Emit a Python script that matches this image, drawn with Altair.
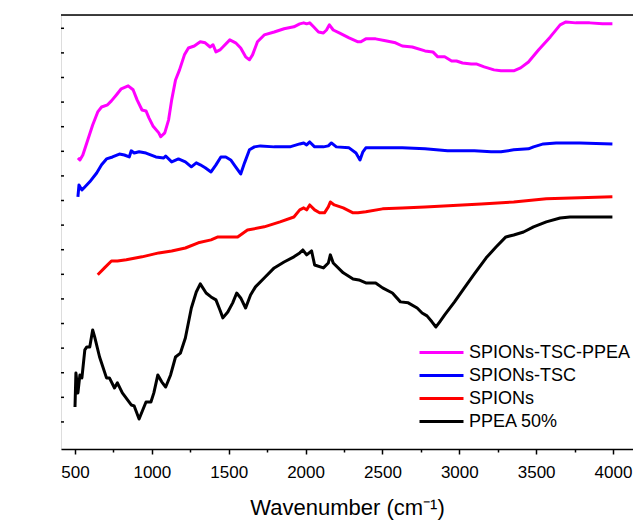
import altair as alt
import pandas as pd

# ---- data (wavenumber cm-1, transmittance in arbitrary offset units) ----
series_names = ["SPIONs-TSC-PPEA", "SPIONs-TSC", "SPIONs", "PPEA 50%"]
series_colors = ["#FF00FF", "#0000FF", "#FF0000", "#000000"]

ppea_tsc_wn = [519, 532, 551, 583, 615, 648, 673, 712, 737, 769, 801, 846, 878, 904, 936, 962, 981,
               1007, 1045, 1058, 1084, 1109, 1129, 1154, 1180, 1212, 1238, 1276, 1315, 1347, 1379,
               1398, 1417, 1443, 1462, 1507, 1545, 1578, 1610, 1635, 1655, 1687, 1731, 1796, 1860,
               1924, 1962, 1988, 2007, 2027, 2052, 2084, 2116, 2136, 2155, 2180, 2219, 2283, 2341,
               2360, 2392, 2456, 2520, 2585, 2629, 2694, 2777, 2828, 2860, 2905, 2950, 2982, 3021,
               3078, 3110, 3162, 3226, 3271, 3354, 3399, 3450, 3515, 3592, 3656, 3694, 3758, 3848,
               3932, 3996]
ppea_tsc_t = [107.3, 106.5, 108.5, 114.6, 120.7, 126.0, 128.0, 128.9, 130.5, 132.9, 135.4, 136.6,
              135.0, 130.9, 126.8, 126.4, 123.6, 120.3, 117.5, 115.9, 117.5, 122.8, 130.9, 139.0,
              143.1, 149.2, 152.0, 152.8, 154.5, 154.1, 152.4, 153.3, 150.4, 151.2, 152.4, 155.3,
              154.1, 152.0, 148.4, 147.2, 149.2, 154.5, 157.3, 158.5, 159.8, 160.6, 161.8, 162.2,
              161.8, 162.2, 160.6, 158.5, 158.1, 159.3, 161.4, 159.3, 158.1, 156.1, 154.5, 154.5,
              155.7, 155.7, 154.9, 154.1, 152.8, 152.4, 150.8, 150.4, 148.4, 148.4, 146.7, 146.7,
              145.9, 145.5, 145.5, 144.3, 143.1, 142.7, 142.7, 143.9, 146.3, 151.2, 156.5, 161.4,
              162.6, 162.2, 162.2, 161.8, 161.8]

tsc_wn = [519, 526, 545, 564, 596, 641, 673, 705, 744, 789, 821, 853, 866, 885, 917, 962, 1026,
          1077, 1090, 1129, 1173, 1218, 1257, 1289, 1315, 1347, 1385, 1417, 1449, 1481, 1513, 1545,
          1578, 1603, 1635, 1667, 1706, 1796, 1898, 1962, 1988, 2007, 2027, 2059, 2116, 2148, 2168,
          2200, 2283, 2328, 2354, 2373, 2392, 2501, 2629, 2777, 2924, 3098, 3207, 3271, 3354, 3450,
          3483, 3547, 3630, 3784, 3996]
tsc_t = [91.5, 96.3, 94.3, 95.5, 97.6, 101.2, 104.5, 106.9, 107.7, 108.9, 108.5, 107.7, 110.2,
         109.3, 109.8, 109.3, 107.7, 107.3, 108.1, 105.7, 106.9, 105.7, 103.7, 105.3, 104.5, 103.3,
         101.6, 104.5, 107.7, 107.7, 106.5, 103.7, 100.8, 105.3, 110.6, 111.8, 112.2, 111.8, 111.8,
         113.0, 113.4, 112.6, 113.8, 111.8, 111.8, 112.2, 113.4, 111.8, 111.4, 109.3, 106.5, 109.8,
         111.4, 111.4, 111.4, 111.0, 110.2, 110.2, 109.8, 109.8, 110.6, 111.0, 111.8, 113.0, 113.4,
         113.4, 113.0]

spions_wn = [648, 692, 737, 776, 834, 936, 1045, 1129, 1218, 1302, 1385, 1430, 1558, 1622, 1731,
             1834, 1924, 1962, 1988, 2007, 2027, 2059, 2091, 2123, 2148, 2161, 2187, 2245, 2309,
             2341, 2392, 2501, 2629, 2777, 3143, 3354, 3566, 3784, 3996]
spions_t = [59.8, 62.6, 65.4, 65.4, 65.9, 67.1, 68.7, 69.5, 70.7, 72.8, 74.0, 75.2, 75.2, 78.0,
            79.3, 81.3, 83.3, 86.2, 87.0, 86.2, 88.2, 86.2, 85.0, 85.0, 87.4, 89.4, 88.2, 87.0,
            85.0, 85.0, 85.4, 86.6, 87.0, 87.4, 88.6, 89.4, 90.7, 91.1, 91.5]

ppea_wn = [500, 506, 513, 519, 532, 545, 564, 577, 596, 615, 628, 660, 705, 724, 757, 776, 808, 866,
           885, 917, 962, 994, 1013, 1039, 1064, 1090, 1122, 1154, 1186, 1218, 1257, 1289, 1315,
           1353, 1385, 1417, 1443, 1462, 1494, 1526, 1552, 1578, 1610, 1642, 1674, 1731, 1796, 1860,
           1924, 1962, 1982, 2007, 2039, 2059, 2116, 2148, 2161, 2180, 2245, 2309, 2347, 2392, 2456,
           2501, 2565, 2617, 2668, 2726, 2758, 2790, 2822, 2848, 2873, 2905, 2969, 3033, 3098, 3175,
           3239, 3303, 3354, 3418, 3483, 3566, 3656, 3720, 3848, 3996]
ppea_t = [6.1, 19.9, 15.9, 11.8, 19.1, 17.9, 29.3, 30.5, 30.5, 37.4, 34.6, 26.4, 17.9, 17.9, 13.8,
          15.9, 11.8, 6.9, 6.5, 1.2, 8.1, 8.1, 11.8, 19.1, 16.3, 14.2, 19.1, 26.4, 28.0, 34.1, 46.3,
          52.8, 56.1, 52.4, 50.8, 49.6, 45.5, 42.3, 44.7, 48.4, 52.4, 50.4, 46.3, 51.6, 54.9, 58.5,
          62.6, 65.0, 67.1, 68.7, 69.9, 67.9, 69.5, 63.8, 62.6, 64.6, 67.9, 64.6, 60.6, 58.1, 57.7,
          56.5, 56.5, 54.5, 52.4, 48.8, 48.4, 46.3, 44.3, 43.1, 40.7, 38.6, 40.7, 43.5, 48.8, 54.5,
          60.2, 66.7, 71.1, 75.2, 76.0, 77.2, 79.3, 81.3, 82.9, 83.3, 83.3, 83.3]

x_tick_values = list(range(500, 4001, 250))
y_tick_values = list(range(0, 161, 10))
x_domain = [409, 4130]
y_domain = [-11, 165.4]

# ---- build table ----
rows = []
for name, wn, tt in zip(series_names,
                        [ppea_tsc_wn, tsc_wn, spions_wn, ppea_wn],
                        [ppea_tsc_t, tsc_t, spions_t, ppea_t]):
    for i, (w, v) in enumerate(zip(wn, tt)):
        rows.append({"series": name, "wn": w, "t": v, "idx": i})
df = pd.DataFrame(rows)

FONT = "Liberation Sans, Arial, sans-serif"
W, H = 572, 434

x_scale = alt.Scale(domain=x_domain, nice=False, zero=False)
y_scale = alt.Scale(domain=y_domain, nice=False, zero=False)

lines = alt.Chart(df).mark_line(strokeWidth=3, strokeJoin="round").encode(
    x=alt.X("wn:Q", scale=x_scale,
            axis=alt.Axis(values=x_tick_values, format="d",
                          labelExpr="datum.value % 500 === 0 ? datum.label : ''",
                          tickSize={"condition": {"test": "datum.value % 500 === 0", "value": 5}, "value": 3},
                          tickWidth=1.5, tickColor="black",
                          domain=True, domainColor="black", domainWidth=1.5, grid=False,
                          labelFontSize=17, labelFont=FONT, labelColor="black", labelPadding=10.5,
                          title="Wavenumber (cm⁻¹)", titleFontSize=22, titleFont=FONT,
                          titleFontWeight="normal", titleColor="black",
                          titleBaseline="alphabetic", titleY=65)),
    y=alt.Y("t:Q", scale=y_scale,
            axis=alt.Axis(ticks=False, labels=False, grid=False,
                          domain=True, domainColor="black", domainWidth=1.5,
                          title="Transmittance %", titleFontSize=23, titleFont=FONT,
                          titleFontWeight="normal", titleColor="black", titleAngle=270,
                          titleBaseline="alphabetic", titleAlign="center",
                          titleX=-30, titleY=233)),
    color=alt.Color("series:N", scale=alt.Scale(domain=series_names, range=series_colors),
                    legend=alt.Legend(title=None, orient="none", legendX=368, legendY=325,
                                      symbolType="M-2,0L2,0", symbolSize=484,
                                      symbolStrokeWidth=3, labelOffset=15, labelLimit=0,
                                      labelFontSize=18, labelFont=FONT, labelColor="black",
                                      rowPadding=1, padding=0)),
    order=alt.Order("idx:Q"),
)

ytick_df = pd.DataFrame({"t": y_tick_values})
yticks = alt.Chart(ytick_df).mark_rule(color="black", strokeWidth=1.5).encode(
    y=alt.Y("t:Q", scale=y_scale, axis=None),
    x=alt.value(0), x2=alt.value(3),
)

# top frame line (plot border)
top_border = alt.Chart(pd.DataFrame({"k": [0]})).mark_rule(color="black", strokeWidth=1.5).encode(
    y=alt.value(0), x=alt.value(0), x2=alt.value(W),
)

chart = alt.layer(yticks, top_border, lines).properties(
    width=W, height=H,
    autosize=alt.AutoSizeParams(type="none"),
    padding={"left": 53, "top": 7, "right": 0, "bottom": 71},
).configure_view(stroke=None).configure(background="white")

chart.save("out.html", embed_options={"renderer": "svg", "actions": False})
